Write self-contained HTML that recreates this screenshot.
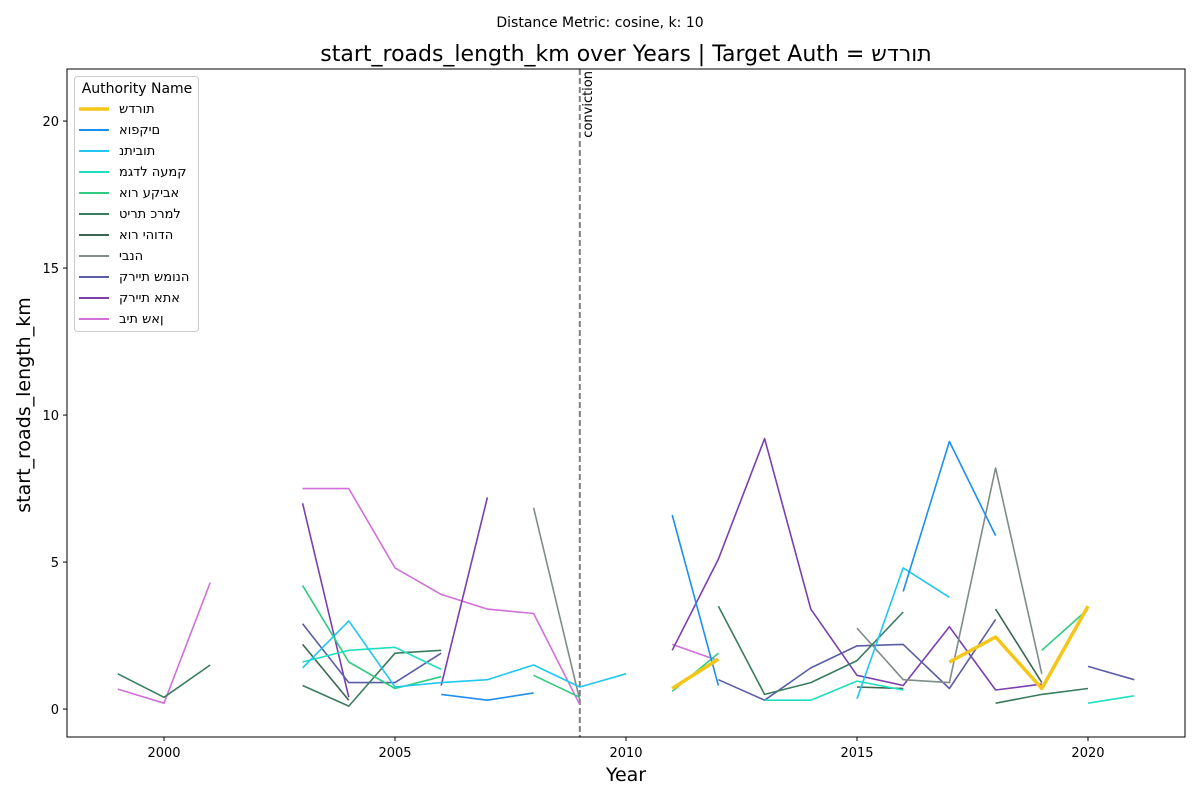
<!DOCTYPE html>
<html><head><meta charset="utf-8"><style>
body{margin:0;background:#fff;}
svg text{font-family:"DejaVu Sans","Liberation Sans",sans-serif;}
.heb{unicode-bidi:bidi-override;direction:ltr;}
</style></head><body>
<svg id="chart" width="1200" height="800" xmlns="http://www.w3.org/2000/svg"></svg>
<script>
const years=[1999,2000,2001,2002,2003,2004,2005,2006,2007,2008,2009,2010,2011,2012,2013,2014,2015,2016,2017,2018,2019,2020,2021];
const names=["שדרות","אופקים","נתיבות","מגדל העמק","אור עקיבא","טירת כרמל","אור יהודה","יבנה","קריית שמונה","קריית אתא","בית שאן"];
const colors=["#f5c518","#1e8ff0","#1ec8f0","#1ee0c0","#2ecc80","#3a7d5e","#3d6652","#7f8c8a","#5b5ea6","#7b3fb0","#d070d8"];
const N=null;
const sSderot=[N,N,N,N,N,N,N,N,N,N,N,N,0.7,1.7,N,N,N,N,1.6,2.45,0.7,3.5,N];
const sOfakim=[N,N,N,N,N,N,N,0.5,0.3,0.55,N,N,6.6,0.8,N,N,N,4.0,9.1,5.9,N,N,N];
const sNetivot=[N,N,N,N,1.4,3.0,0.75,0.9,1.0,1.5,0.75,1.2,N,N,N,N,0.35,4.8,3.8,N,N,N,N];
const sMigdal=[N,N,N,N,1.6,2.0,2.1,1.35,N,N,N,N,N,N,0.3,0.3,0.95,0.65,N,N,N,0.2,0.45];
const sOrAkiva=[N,N,N,N,4.2,1.6,0.7,1.1,N,1.15,0.4,N,0.6,1.9,N,N,N,N,N,N,2.0,3.4,N];
const sTirat=[1.2,0.4,1.5,N,0.8,0.1,1.9,2.0,N,N,N,N,N,3.5,0.5,0.9,1.65,3.3,N,0.2,0.5,0.7,N];
const sOrYehuda=[N,N,N,N,2.2,0.3,N,N,N,N,N,N,N,N,N,N,0.75,0.7,N,3.4,0.9,N,N];
const sYavne=[N,N,N,N,N,N,N,N,N,6.85,0.3,N,N,N,N,N,2.75,1.0,0.9,8.2,1.2,N,N];
const sKiryatShmona=[N,N,N,N,2.9,0.9,0.9,1.9,N,N,N,N,N,1.0,0.3,1.4,2.15,2.2,0.7,3.05,N,1.45,1.0];
const sKiryatAta=[N,N,N,N,7.0,0.4,N,0.8,7.2,N,N,N,2.0,5.1,9.2,3.4,1.15,0.8,2.8,0.65,0.85,N,N];
const sBeitShean=[0.68,0.2,4.3,N,7.5,7.5,4.8,3.9,3.4,3.25,0.15,N,2.2,1.65,N,N,N,N,N,N,N,N,N];
const series=[sSderot,sOfakim,sNetivot,sMigdal,sOrAkiva,sTirat,sOrYehuda,sYavne,sKiryatShmona,sKiryatAta,sBeitShean];
const xTicks=[2000,2005,2010,2015,2020];
const yTicks=[0,5,10,15,20];
const L=67,R=1185,T=69,B=737,xMin=1997.9,xMax=2022.1,yMin=-0.95,yMax=21.77;
const X=v=>L+(v-xMin)/(xMax-xMin)*(R-L);
const Y=v=>B-(v-yMin)/(yMax-yMin)*(B-T);
const svg=document.getElementById('chart');
const NS="http://www.w3.org/2000/svg";
function mk(tag,attrs,parent){const e=document.createElementNS(NS,tag);for(const k in attrs)e.setAttribute(k,attrs[k]);(parent||svg).appendChild(e);return e;}
let t=mk('text',{x:600,y:27,'text-anchor':'middle','font-size':14});t.textContent="Distance Metric: cosine, k: 10";


t=mk('text',{x:626,y:61,'text-anchor':'middle','font-size':22});t.textContent="start_roads_length_km over Years | Target Auth = ";


const ts=mk('tspan',{class:'heb'},t);ts.textContent="שדרות";
xTicks.forEach(v=>{mk('line',{x1:X(v),x2:X(v),y1:B,y2:B+4,stroke:'#000'});
 const tx=mk('text',{x:X(v),y:B+20,'text-anchor':'middle','font-size':13});tx.textContent=v;
 
 });
yTicks.forEach(v=>{mk('line',{x1:L-4,x2:L,y1:Y(v),y2:Y(v),stroke:'#000'});
 const tx=mk('text',{x:L-8,y:Y(v)+5,'text-anchor':'end','font-size':13});tx.textContent=v;
 
 });
t=mk('text',{x:626,y:781,'text-anchor':'middle','font-size':19});t.textContent="Year";


t=mk('text',{x:30,y:405,'text-anchor':'middle','font-size':19,transform:'rotate(-90 30 405)'});t.textContent="start_roads_length_km";


const cl=mk('line',{x1:X(2009),x2:X(2009),y1:T,y2:B,stroke:'#808080','stroke-width':2,'stroke-dasharray':'6,3'});


t=mk('text',{x:X(2009)+12,y:T+2,'font-size':13,transform:`rotate(-90 ${X(2009)+12} ${T+2})`,'text-anchor':'end'});t.textContent="conviction";


for(let s=series.length-1;s>=0;s--){
 const d=series[s];let segs=[],cur=[];
 d.forEach((v,i)=>{if(v===null){if(cur.length)segs.push(cur);cur=[];}else cur.push(X(years[i]).toFixed(1)+','+Y(v).toFixed(1));});
 if(cur.length)segs.push(cur);
 const g=mk('g',{});
 
 
 segs.forEach(p=>{if(p.length>1){const pl=mk('polyline',{points:p.join(' '),fill:'none',stroke:colors[s],'stroke-width':s===0?3.5:1.6,'stroke-linejoin':'round'},g);
 
 }});
}
mk('rect',{x:L,y:T,width:R-L,height:B-T,fill:'none',stroke:'#000','stroke-width':1});
const lg=mk('g',{});


mk('rect',{x:74.5,y:76.5,width:124,height:255,rx:3,fill:'#fff','fill-opacity':0.85,stroke:'#ccc'},lg);
t=mk('text',{x:137,y:93,'text-anchor':'middle','font-size':14},lg);t.textContent="Authority Name";
names.forEach((n,i)=>{const y=109+i*21;
 const e=mk('g',{},lg);
 
 
 mk('line',{x1:79,x2:109,y1:y,y2:y,stroke:colors[i],'stroke-width':i===0?3.5:2},e);
 const tx=mk('text',{x:119,y:y+4,'font-size':13,class:'heb'},e);tx.textContent=n;});
</script>
</body></html>
